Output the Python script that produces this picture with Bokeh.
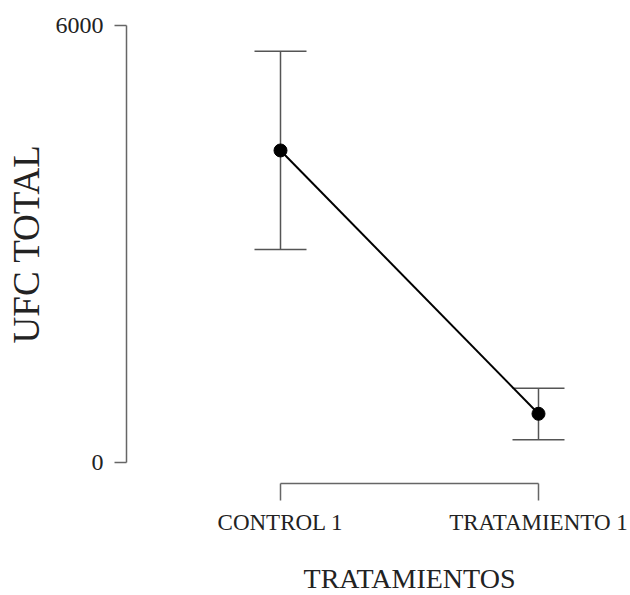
import math
from bokeh.plotting import figure
from bokeh.models import ColumnDataSource, Whisker, TeeHead, FixedTicker, Range1d, Label
from bokeh.embed import file_html
from bokeh.resources import INLINE

categories = ["CONTROL 1", "TRATAMIENTO 1"]
means = [4284, 669]
upper = [5647, 1020]
lower = [2924, 311]
y_ticks = [0, 6000]

xs = list(range(len(categories)))
src = ColumnDataSource(dict(x=xs, mean=means, upper=upper, lower=lower))

# frame fills the whole canvas; both axes are pinned at fixed locations
p = figure(width=630, height=595, output_backend="svg", toolbar_location=None,
           x_range=Range1d(-1.0853, 1.3566), y_range=Range1d(-1826, 6343),
           min_border_left=0, min_border_right=0, min_border_top=0, min_border_bottom=0)
p.outline_line_color = None
p.grid.visible = False
p.background_fill_color = "white"

w = Whisker(source=src, base="x", upper="upper", lower="lower",
            line_color="#555555", line_width=1.5,
            upper_head=TeeHead(size=52, line_color="#555555", line_width=1.5),
            lower_head=TeeHead(size=52, line_color="#555555", line_width=1.5))
p.add_layout(w)

p.line("x", "mean", source=src, line_color="black", line_width=2)
p.scatter("x", "mean", source=src, size=13, fill_color="black", line_color="black")

font = "Liberation Serif"

xa = p.xaxis[0]
xa.fixed_location = -288
xa.ticker = FixedTicker(ticks=xs)
xa.major_label_overrides = {i: c for i, c in enumerate(categories)}
xa.bounds = (0, len(categories) - 1)
xa.minor_tick_line_color = None
xa.major_tick_out = 17
xa.major_tick_in = 0
xa.axis_line_color = "#666666"
xa.axis_line_width = 1.5
xa.major_tick_line_color = "#666666"
xa.major_tick_line_width = 1.5
xa.major_label_text_font = font
xa.major_label_text_font_size = "23px"
xa.major_label_text_color = "#222222"
xa.major_label_standoff = 10

ya = p.yaxis[0]
ya.fixed_location = -0.5969
ya.ticker = FixedTicker(ticks=y_ticks)
ya.bounds = (y_ticks[0], y_ticks[-1])
ya.minor_tick_line_color = None
ya.major_tick_out = 12
ya.major_tick_in = 0
ya.axis_line_color = "#666666"
ya.axis_line_width = 1.5
ya.major_tick_line_color = "#666666"
ya.major_tick_line_width = 1.5
ya.major_label_text_font = font
ya.major_label_text_font_size = "24px"
ya.major_label_text_color = "#222222"
ya.major_label_standoff = 11
ya.major_label_orientation = "horizontal"

# axis titles: x title centred between the categories, y title beside the axis
xlabel = Label(x=(xs[0] + xs[-1]) / 2, y=-1593, x_units="data", y_units="data",
               text="TRATAMIENTOS", text_align="center", text_baseline="middle",
               text_font=font, text_font_size="28px", text_color="#222222")
p.add_layout(xlabel)

ylabel = Label(x=-0.9845, y=(y_ticks[0] + y_ticks[-1]) / 2, x_units="data", y_units="data",
               text="UFC TOTAL", angle=math.pi / 2, text_align="center",
               text_baseline="middle", text_font=font, text_font_size="37px",
               text_color="#222222")
p.add_layout(ylabel)

open("out.html", "w").write(file_html(p, INLINE))
